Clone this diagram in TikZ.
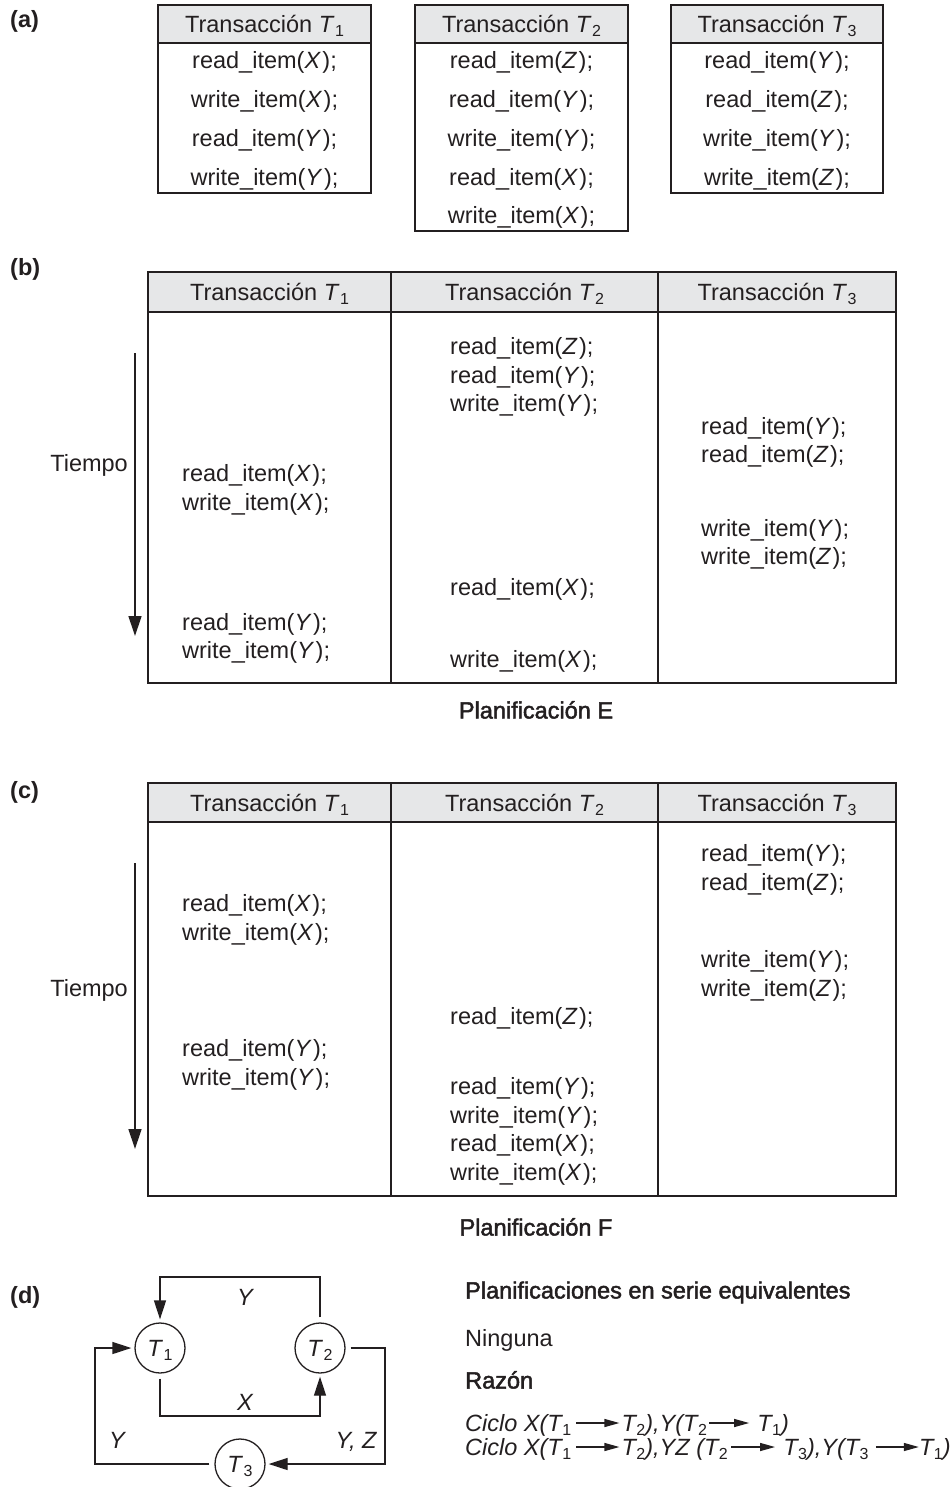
\documentclass[tikz,border=0pt]{standalone}
\usepackage{fontspec}
\setmainfont{Liberation Sans}
\newfontfamily\medfont[FakeBold=2]{Liberation Sans}
\usetikzlibrary{arrows.meta}
\definecolor{ink}{HTML}{231F20}
\definecolor{hdr}{HTML}{E6E7E8}
\newcommand{\Tsb}[1]{\textit{T}\kern0.5pt\raisebox{-4pt}{\fontsize{16}{16}\selectfont\upshape #1}}
\newcommand{\rditem}[1]{read\_item(\textit{#1}\kern1.5pt);}
\newcommand{\writem}[1]{write\_item(\textit{#1}\kern1.5pt);}
\begin{document}
\begin{tikzpicture}[x=1pt,y=-1pt,
  every node/.style={font=\fontsize{23.5}{28}\selectfont, text=ink, inner sep=0pt, text height=17pt, text depth=0pt},
  tbl/.style={draw=ink, line width=1.5pt},
  lbl/.style={font=\fontsize{23.5}{28}\selectfont\bfseries, anchor=west},
  med/.style={font=\fontsize{23.5}{28}\selectfont\medfont, anchor=west},
  lt/.style={anchor=west},
  cyc/.style={font=\fontsize{23.5}{28}\selectfont\itshape, anchor=west},
  st/.style={circle, draw=ink, line width=1.3pt, minimum size=50pt},
  garr/.style={draw=ink, line width=1.3pt, -{Triangle[length=19pt,width=12pt]}, shorten <=5pt, shorten >=3pt},
  tarr/.style={draw=ink, line width=1.3pt, -{Triangle[length=20pt,width=13pt]}},
  carr/.style={draw=ink, line width=1.3pt, -{Triangle[length=15pt,width=8pt]}},
  gl/.style={font=\fontsize{23.5}{28}\selectfont\itshape}
]
\useasboundingbox (0,0) rectangle (951,1487);

% ---------- (a)
\node[lbl] (la) at (10,19) {(a)};
\foreach \l/\r/\b in {158/371/193, 415/628/231, 671/883/193}{
  \filldraw[tbl, fill=hdr] (\l,5) rectangle (\r,43);
  \draw[tbl] (\l,43) rectangle (\r,\b);
}
\node (a1h) at (264.5,24) {Transacción \Tsb{1}};
\node (a1r1) at (264.5,60) {\rditem{X}};
\node (a1r2) at (264.5,99) {\writem{X}};
\node (a1r3) at (264.5,138) {\rditem{Y}};
\node (a1r4) at (264.5,177) {\writem{Y}};
\node (a2h) at (521.5,24) {Transacción \Tsb{2}};
\node (a2r1) at (521.5,60) {\rditem{Z}};
\node (a2r2) at (521.5,99) {\rditem{Y}};
\node (a2r3) at (521.5,138) {\writem{Y}};
\node (a2r4) at (521.5,177) {\rditem{X}};
\node (a2r5) at (521.5,215) {\writem{X}};
\node (a3h) at (777,24) {Transacción \Tsb{3}};
\node (a3r1) at (777,60) {\rditem{Y}};
\node (a3r2) at (777,99) {\rditem{Z}};
\node (a3r3) at (777,138) {\writem{Y}};
\node (a3r4) at (777,177) {\writem{Z}};

% ---------- (b)
\node[lbl] (lb) at (10,267) {(b)};
\fill[hdr] (148,272) rectangle (896,312);
\draw[tbl] (148,272) rectangle (896,683);
\draw[tbl] (148,312) -- (896,312);
\draw[tbl] (391,272) -- (391,683);
\draw[tbl] (658,272) -- (658,683);
\node (b1h) at (269.5,292) {Transacción \Tsb{1}};
\node (b2h) at (524.5,292) {Transacción \Tsb{2}};
\node (b3h) at (777,292) {Transacción \Tsb{3}};
\node[lt] (b1r1) at (182,473) {\rditem{X}};
\node[lt] (b1r2) at (182,502) {\writem{X}};
\node[lt] (b1r3) at (182,622) {\rditem{Y}};
\node[lt] (b1r4) at (182,650) {\writem{Y}};
\node[lt] (b2r1) at (450,346) {\rditem{Z}};
\node[lt] (b2r2) at (450,375) {\rditem{Y}};
\node[lt] (b2r3) at (450,403) {\writem{Y}};
\node[lt] (b2r4) at (450,587) {\rditem{X}};
\node[lt] (b2r5) at (450,659) {\writem{X}};
\node[lt] (b3r1) at (701,426) {\rditem{Y}};
\node[lt] (b3r2) at (701,454) {\rditem{Z}};
\node[lt] (b3r3) at (701,528) {\writem{Y}};
\node[lt] (b3r4) at (701,556) {\writem{Z}};
\node[anchor=east] (bt) at (128,463) {Tiempo};
\coordinate (bta) at (135,353);
\coordinate (btb) at (135,636);
\draw[tarr] (bta) -- (btb);
\node[med, anchor=center] (bcap) at (536,710) {Planificación E};

% ---------- (c)
\node[lbl] (lc) at (10,790) {(c)};
\fill[hdr] (148,783) rectangle (896,822);
\draw[tbl] (148,783) rectangle (896,1196);
\draw[tbl] (148,822) -- (896,822);
\draw[tbl] (391,783) -- (391,1196);
\draw[tbl] (658,783) -- (658,1196);
\node (c1h) at (269.5,803) {Transacción \Tsb{1}};
\node (c2h) at (524.5,803) {Transacción \Tsb{2}};
\node (c3h) at (777,803) {Transacción \Tsb{3}};
\node[lt] (c1r1) at (182,903) {\rditem{X}};
\node[lt] (c1r2) at (182,932) {\writem{X}};
\node[lt] (c1r3) at (182,1048) {\rditem{Y}};
\node[lt] (c1r4) at (182,1077) {\writem{Y}};
\node[lt] (c2r1) at (450,1016) {\rditem{Z}};
\node[lt] (c2r2) at (450,1086) {\rditem{Y}};
\node[lt] (c2r3) at (450,1115) {\writem{Y}};
\node[lt] (c2r4) at (450,1143) {\rditem{X}};
\node[lt] (c2r5) at (450,1172) {\writem{X}};
\node[lt] (c3r1) at (701,853) {\rditem{Y}};
\node[lt] (c3r2) at (701,882) {\rditem{Z}};
\node[lt] (c3r3) at (701,959) {\writem{Y}};
\node[lt] (c3r4) at (701,988) {\writem{Z}};
\node[anchor=east] (ct) at (128,988) {Tiempo};
\coordinate (cta) at (135,863);
\coordinate (ctb) at (135,1149);
\draw[tarr] (cta) -- (ctb);
\node[med, anchor=center] (ccap) at (536,1227) {Planificación F};

% ---------- (d)
\node[lbl] (ld) at (10,1295) {(d)};
\node[st] (T1) at (160,1348) {\Tsb{1}};
\node[st] (T2) at (320,1348) {\Tsb{2}};
\node[st] (T3) at (240,1464) {\Tsb{3}};
\coordinate (ytop) at (0,1277);
\coordinate (xbot) at (0,1416);
\coordinate (rcol) at (385,0);
\coordinate (lcol) at (95,0);
\draw[garr] (T2.north) -- (T2.north |- ytop) -| (T1.north);
\draw[garr] (T1.south) -- (T1.south |- xbot) -| (T2.south);
\draw[garr] (T2.east) -- (T2.east -| rcol) |- (T3.east);
\draw[garr] (T3.west) -- (T3.west -| lcol) |- (T1.west);
\node[gl] (ly1) at (245,1297) {Y};
\node[gl] (lx) at (245,1402) {X};
\node[gl] (lyz) at (356,1440) {Y, Z};
\node[gl] (ly2) at (117,1440) {Y};

\node[med] (pse) at (465,1290) {Planificaciones en serie equivalentes};
\node[lt] (nin) at (465,1338) {Ninguna};
\node[med] (raz) at (465,1380) {Razón};

\node[cyc] (l1a) at (465,1423) {Ciclo X(\Tsb{1}};
\node[cyc] (l1b) at ([xshift=50pt]l1a.east) {\Tsb{2}),Y(\Tsb{2}};
\node[cyc] (l1c) at ([xshift=50pt]l1b.east) {\Tsb{1})};
\draw[carr] ([xshift=5pt]l1a.east) -- ([xshift=-2pt]l1b.west);
\draw[carr] ([xshift=2pt]l1b.east) -- ([xshift=-8pt]l1c.west);

\node[cyc] (l2a) at (465,1447) {Ciclo X(\Tsb{1}};
\node[cyc] (l2b) at ([xshift=50pt]l2a.east) {\Tsb{2}),YZ (\Tsb{2}};
\node[cyc] (l2c) at ([xshift=55pt]l2b.east) {\Tsb{3}),Y(\Tsb{3}};
\node[cyc] (l2d) at ([xshift=50pt]l2c.east) {\Tsb{1})};
\draw[carr] ([xshift=5pt]l2a.east) -- ([xshift=-2pt]l2b.west);
\draw[carr] ([xshift=3pt]l2b.east) -- ([xshift=-8pt]l2c.west);
\draw[carr] ([xshift=7pt]l2c.east) -- ([xshift=0pt]l2d.west);
\end{tikzpicture}
\end{document}
